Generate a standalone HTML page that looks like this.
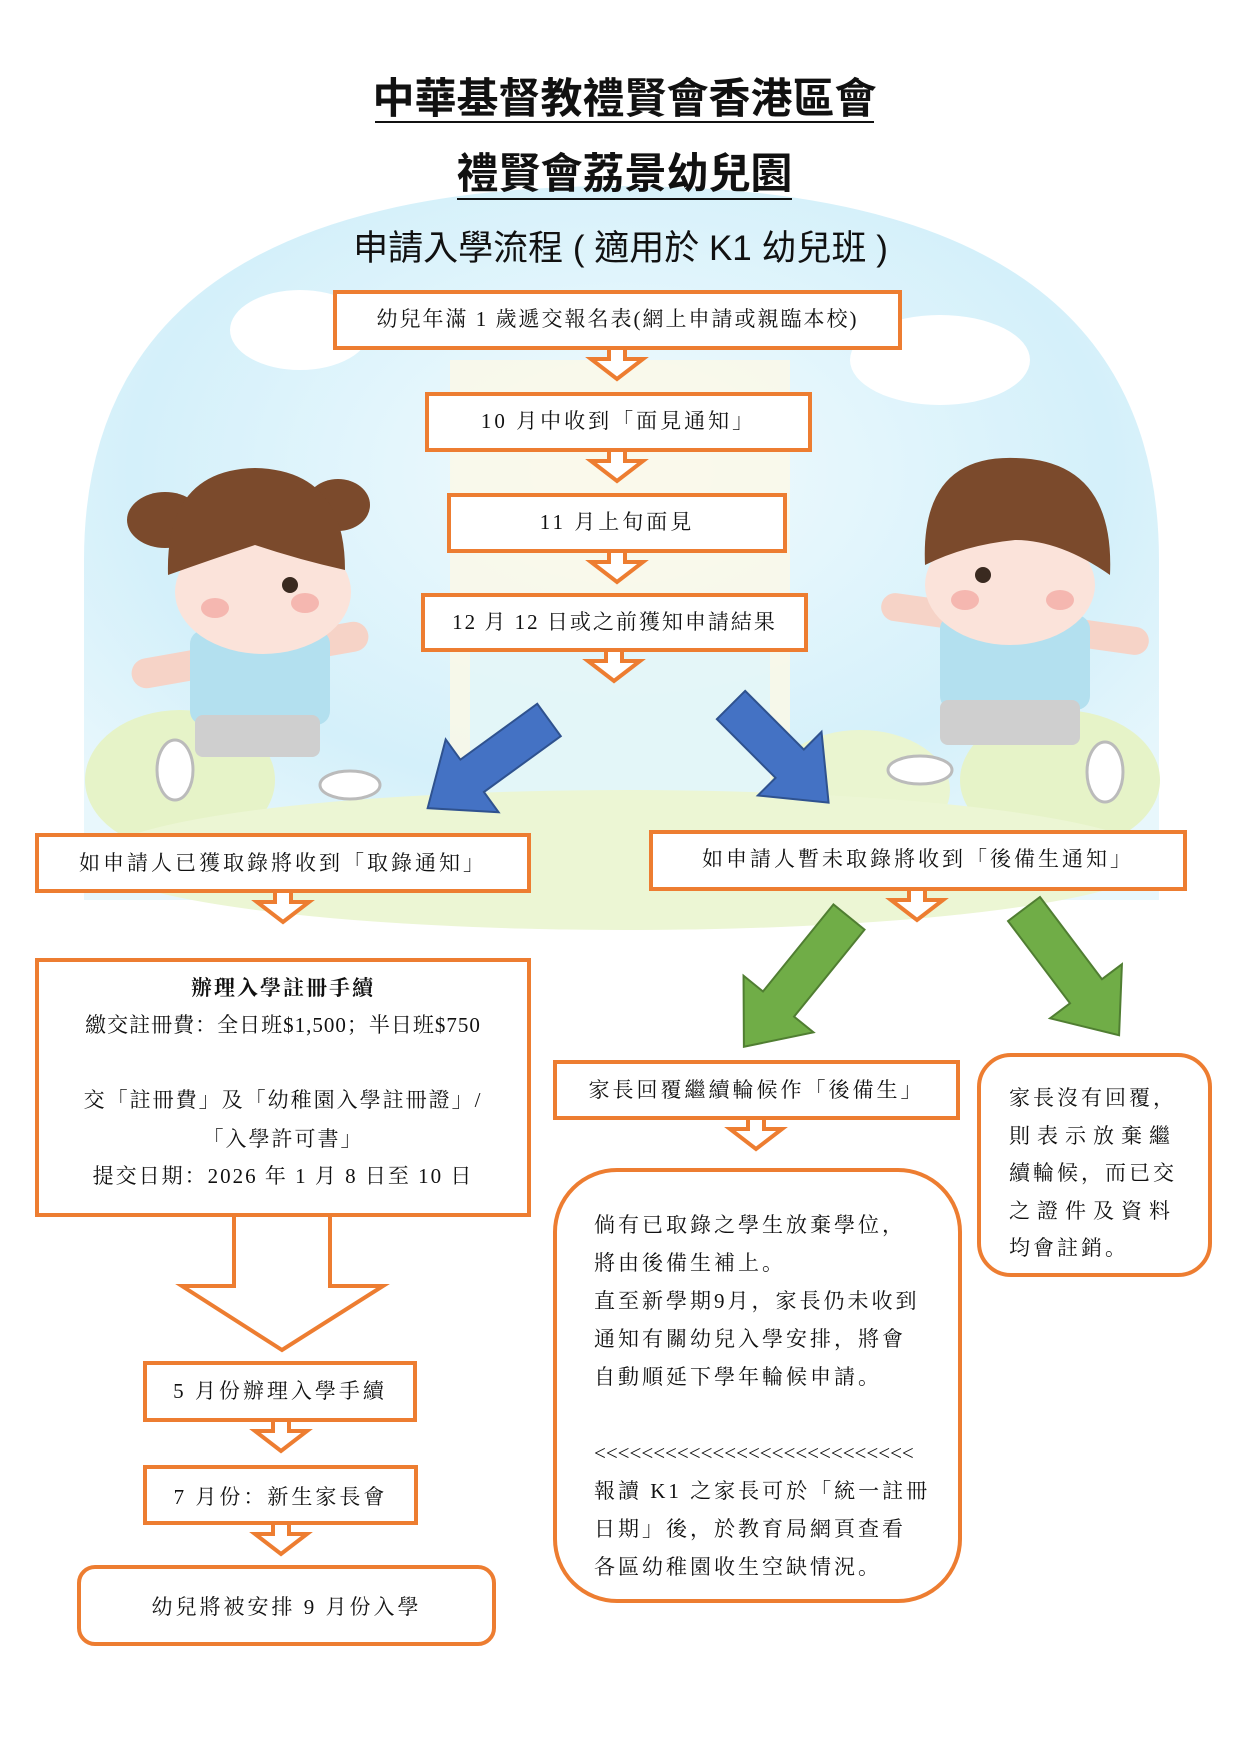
<!DOCTYPE html>
<html><head><meta charset="utf-8">
<style>
html,body{margin:0;padding:0;background:#fff;}
#p{position:relative;width:1241px;height:1755px;overflow:hidden;font-family:"Liberation Serif","Noto Serif CJK SC",serif;color:#111;}
.t{position:absolute;white-space:nowrap;}
.c{text-align:center;}
svg{position:absolute;left:0;top:0;}
</style></head><body><div id="p">
<svg width="1241" height="1755" viewBox="0 0 1241 1755">
<defs>
<radialGradient id="sky" cx="50%" cy="40%" r="65%">
<stop offset="0" stop-color="#f2fbfe"/><stop offset="0.7" stop-color="#d4f0fa"/><stop offset="1" stop-color="#e8f7fc"/></radialGradient>
</defs>
<path d="M84 900 L84 560 Q84 186 621 186 Q1159 186 1159 560 L1159 900 Z" fill="url(#sky)"/>
<ellipse cx="300" cy="330" rx="70" ry="40" fill="#fff"/>
<ellipse cx="940" cy="360" rx="90" ry="45" fill="#fff"/>
<rect x="450" y="360" width="340" height="470" fill="#fdf9e6" opacity="0.8"/>
<rect x="470" y="610" width="300" height="200" fill="#dff5fb" opacity="0.8"/>
<ellipse cx="180" cy="780" rx="95" ry="70" fill="#e6f3c8"/>
<ellipse cx="1060" cy="780" rx="100" ry="70" fill="#e6f3c8"/>
<ellipse cx="860" cy="790" rx="90" ry="60" fill="#eaf5d0"/>
<ellipse cx="627" cy="860" rx="530" ry="70" fill="#ecf6d4"/>
<g>
<ellipse cx="165" cy="520" rx="38" ry="28" fill="#7b4a2c"/>
<ellipse cx="338" cy="505" rx="32" ry="26" fill="#7b4a2c"/>
<rect x="130" y="640" width="240" height="30" rx="15" fill="#f6d3c7" transform="rotate(-10 250 655)"/>
<rect x="190" y="630" width="140" height="95" rx="14" fill="#b3e0ef"/>
<rect x="195" y="715" width="125" height="42" rx="8" fill="#cfcfcf"/>
<ellipse cx="175" cy="770" rx="18" ry="30" fill="#fff" stroke="#bbb" stroke-width="3"/>
<ellipse cx="350" cy="785" rx="30" ry="14" fill="#fff" stroke="#bbb" stroke-width="3"/>
<ellipse cx="263" cy="592" rx="88" ry="62" fill="#fbe3da"/>
<path d="M168 575 Q165 470 255 468 Q345 470 345 570 Q300 560 255 545 Q210 560 168 575Z" fill="#7b4a2c"/>
<ellipse cx="215" cy="608" rx="14" ry="10" fill="#f5b7b0"/>
<ellipse cx="305" cy="603" rx="14" ry="10" fill="#f5b7b0"/>
<circle cx="290" cy="585" r="8" fill="#3a2a20"/>
</g>
<g>
<rect x="880" y="610" width="270" height="28" rx="14" fill="#f6d3c7" transform="rotate(8 1015 624)"/>
<rect x="940" y="615" width="150" height="95" rx="14" fill="#b3e0ef"/>
<rect x="940" y="700" width="140" height="45" rx="8" fill="#cfcfcf"/>
<ellipse cx="920" cy="770" rx="32" ry="14" fill="#fff" stroke="#bbb" stroke-width="3"/>
<ellipse cx="1105" cy="772" rx="18" ry="30" fill="#fff" stroke="#bbb" stroke-width="3"/>
<ellipse cx="1010" cy="585" rx="85" ry="60" fill="#fbe3da"/>
<path d="M925 565 Q920 455 1015 458 Q1115 460 1110 575 Q1060 540 1015 540 Q965 545 925 565Z" fill="#7b4a2c"/>
<ellipse cx="965" cy="600" rx="14" ry="10" fill="#f5b7b0"/>
<ellipse cx="1060" cy="600" rx="14" ry="10" fill="#f5b7b0"/>
<circle cx="983" cy="575" r="8" fill="#3a2a20"/>
</g>

<g fill="none" stroke="#ED7D31" stroke-width="4">
<line x1="375" y1="122" x2="874" y2="122" stroke="#111" stroke-width="2"/>
<line x1="457" y1="199" x2="792" y2="199" stroke="#111" stroke-width="2"/>
<rect x="335" y="292" width="565" height="56" fill="#fff"/>
<rect x="427" y="394" width="383" height="56" fill="#fff"/>
<rect x="449" y="495" width="336" height="56" fill="#fff"/>
<rect x="423" y="595" width="383" height="55" fill="#fff"/>
<rect x="37" y="835" width="492" height="56" fill="#fff"/>
<rect x="651" y="832" width="534" height="57" fill="#fff"/>
<rect x="37" y="960" width="492" height="255" fill="#fff"/>
<rect x="555" y="1062" width="403" height="56" fill="#fff"/>
<rect x="979" y="1055" width="231" height="220" rx="32" fill="#fff"/>
<rect x="555" y="1170" width="405" height="431" rx="62" fill="#fff"/>
<rect x="145" y="1363" width="270" height="57" fill="#fff"/>
<rect x="145" y="1467" width="271" height="56" fill="#fff"/>
<rect x="79" y="1567" width="415" height="77" rx="16" fill="#fff"/>
</g>
<g fill="#fff" stroke="#ED7D31" stroke-width="4" stroke-linejoin="miter">
<polygon points="609,348 625,348 625,359 643,359 617,379 591,359 609,359"/>
<polygon points="609,450 625,450 625,461 643,461 617,481 591,461 609,461"/>
<polygon points="609,551 625,551 625,562 643,562 617,582 591,562 609,562"/>
<polygon points="606,650 622,650 622,661 640,661 614,681 588,661 606,661"/>
<polygon points="275,891 291,891 291,902 309,902 283,922 257,902 275,902"/>
<polygon points="909,889 925,889 925,900 943,900 917,920 891,900 909,900"/>
<polygon points="748,1118 764,1118 764,1129 782,1129 756,1149 730,1129 748,1129"/>
<polygon points="273,1420 289,1420 289,1431 307,1431 281,1451 255,1431 273,1431"/>
<polygon points="273,1523 289,1523 289,1534 307,1534 281,1554 255,1534 273,1534"/>
<polygon points="234,1215 330,1215 330,1286 383,1286 282,1350 182,1286 234,1286"/>
</g>
<g stroke-width="2">
<polygon points="0,-20 95,-20 95,-45 150,0 95,45 95,20 0,20" fill="#4472C4" stroke="#2f528f" transform="translate(549,720) rotate(144)"/>
<polygon points="0,-20 83,-20 83,-45 138,0 83,45 83,20 0,20" fill="#4472C4" stroke="#2f528f" transform="translate(731,705) rotate(45)"/>
<polygon points="0,-20 112,-20 112,-45 167,0 112,45 112,20 0,20" fill="#70AD47" stroke="#507e32" transform="translate(849,917) rotate(129)"/>
<polygon points="0,-20 103,-20 103,-45 158,0 103,45 103,20 0,20" fill="#70AD47" stroke="#507e32" transform="translate(1024,909) rotate(53)"/>
</g>
</svg>

<div class="t c" style="left:0;width:1249px;top:72px;font-family:'Liberation Sans','Noto Sans CJK TC',sans-serif;font-weight:bold;font-size:42px;line-height:54px;">中華基督教禮賢會香港區會</div>
<div class="t c" style="left:0;width:1249px;top:147px;font-family:'Liberation Sans','Noto Sans CJK TC',sans-serif;font-weight:bold;font-size:42px;line-height:54px;">禮賢會荔景幼兒園</div>
<div class="t c" style="left:0;width:1241px;top:226px;font-family:'Liberation Sans','Noto Sans CJK TC',sans-serif;font-size:35px;line-height:46px;">申請入學流程 ( 適用於 K1 幼兒班 )</div>

<div class="t c" style="left:335px;width:565px;top:304px;font-size:21px;line-height:30px;letter-spacing:2px;">幼兒年滿 1 歲遞交報名表(網上申請或親臨本校)</div>
<div class="t c" style="left:427px;width:383px;top:406px;font-size:21px;line-height:30px;letter-spacing:3px;">10 月中收到「面見通知」</div>
<div class="t c" style="left:449px;width:336px;top:507px;font-size:21px;line-height:30px;letter-spacing:3px;">11 月上旬面見</div>
<div class="t c" style="left:423px;width:383px;top:607px;font-size:21px;line-height:30px;letter-spacing:2px;">12 月 12 日或之前獲知申請結果</div>
<div class="t c" style="left:37px;width:492px;top:848px;font-size:21px;line-height:30px;letter-spacing:3px;">如申請人已獲取錄將收到「取錄通知」</div>
<div class="t c" style="left:651px;width:534px;top:844px;font-size:21px;line-height:30px;letter-spacing:3px;">如申請人暫未取錄將收到「後備生通知」</div>

<div class="t c" style="left:37px;width:492px;top:973px;font-size:21px;line-height:30px;font-weight:bold;letter-spacing:2px;">辦理入學註冊手續</div>
<div class="t c" style="left:37px;width:492px;top:1010px;font-size:21px;line-height:30px;letter-spacing:1px;">繳交註冊費：全日班$1,500；半日班$750</div>
<div class="t c" style="left:37px;width:492px;top:1085px;font-size:21px;line-height:30px;letter-spacing:2px;">交「註冊費」及「幼稚園入學註冊證」/</div>
<div class="t c" style="left:37px;width:492px;top:1124px;font-size:21px;line-height:30px;letter-spacing:2px;">「入學許可書」</div>
<div class="t c" style="left:37px;width:492px;top:1161px;font-size:21px;line-height:30px;letter-spacing:2px;">提交日期：2026 年 1 月 8 日至 10 日</div>

<div class="t c" style="left:555px;width:403px;top:1075px;font-size:21px;line-height:30px;letter-spacing:3px;">家長回覆繼續輪候作「後備生」</div>
<div class="t" style="left:1009px;top:1080px;font-size:21px;line-height:37.5px;letter-spacing:3px;">家長沒有回覆，<br><span style="letter-spacing:7px">則表示放棄繼</span><br>續輪候，而已交<br><span style="letter-spacing:7px">之證件及資料</span><br>均會註銷。</div>
<div class="t" style="left:594px;top:1206px;font-size:21px;line-height:38px;letter-spacing:3px;">倘有已取錄之學生放棄學位，<br>將由後備生補上。<br>直至新學期9月，家長仍未收到<br>通知有關幼兒入學安排，將會<br>自動順延下學年輪候申請。<br><br><span style="letter-spacing:0">&lt;&lt;&lt;&lt;&lt;&lt;&lt;&lt;&lt;&lt;&lt;&lt;&lt;&lt;&lt;&lt;&lt;&lt;&lt;&lt;&lt;&lt;&lt;&lt;&lt;&lt;&lt;</span><br>報讀 K1 之家長可於「統一註冊<br>日期」後，於教育局網頁查看<br>各區幼稚園收生空缺情況。</div>

<div class="t c" style="left:145px;width:270px;top:1376px;font-size:21px;line-height:30px;letter-spacing:3px;">5 月份辦理入學手續</div>
<div class="t c" style="left:145px;width:271px;top:1482px;font-size:21px;line-height:30px;letter-spacing:3px;">7 月份：新生家長會</div>
<div class="t c" style="left:79px;width:415px;top:1592px;font-size:21px;line-height:30px;letter-spacing:3px;">幼兒將被安排 9 月份入學</div>
</div></body></html>
